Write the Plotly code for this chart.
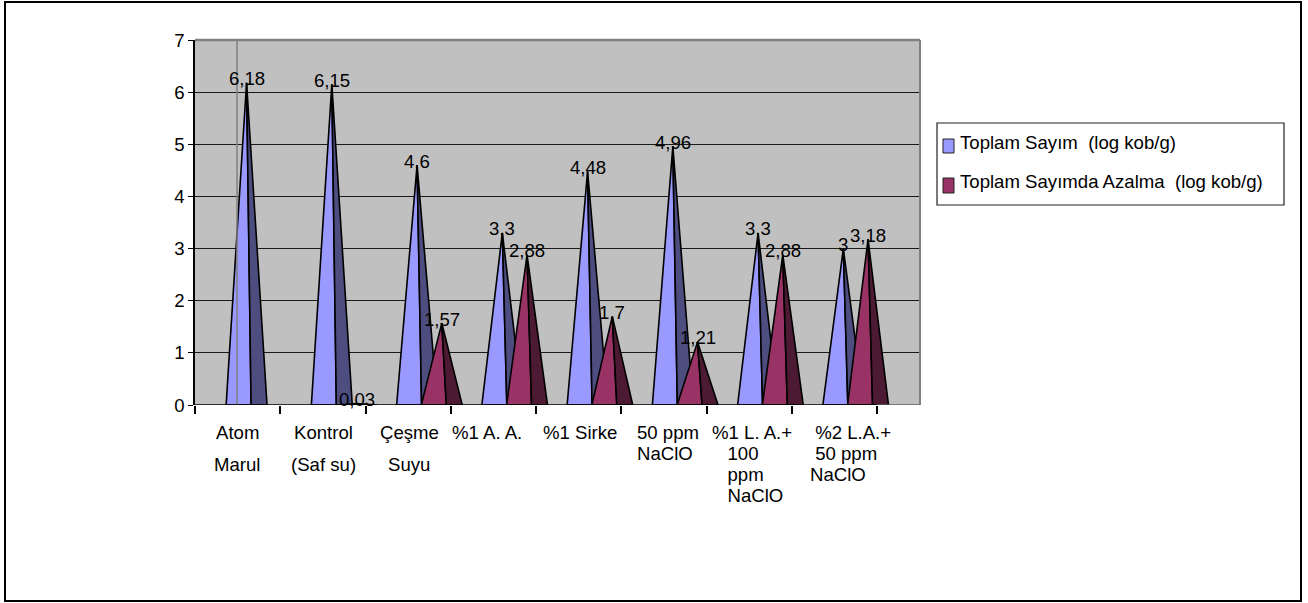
import plotly.graph_objects as go

# --- data -------------------------------------------------------------
categories = [
    "Atom\nMarul",
    "Kontrol\n(Saf su)",
    "Çeşme\nSuyu",
    "%1 A. A.",
    "%1 Sirke",
    "50 ppm\nNaClO",
    "%1 L. A.+\n\u00a0\u00a0\u00a0100\n\u00a0\u00a0\u00a0ppm\n\u00a0\u00a0\u00a0NaClO",
    "\u00a0%2 L.A.+\n\u00a050 ppm\nNaClO",
]
series_names = ["Toplam Sayım \u00a0(log kob/g)", "Toplam Sayımda Azalma \u00a0(log kob/g)"]
toplam_sayim = [6.18, 6.15, 4.6, 3.3, 4.48, 4.96, 3.3, 3.0]
sayimda_azalma = [None, 0.03, 1.57, 2.88, 1.7, 1.21, 2.88, 3.18]
y_ticks = [0, 1, 2, 3, 4, 5, 6, 7]

# --- styling ----------------------------------------------------------
FONT = "Liberation Sans, Arial, sans-serif"
FS = 18.6
W, H = 1308, 603
L, R, T, B = 195, 388, 40, 198
PW, PH = W - L - R, H - T - B
X_UNIT = 85.25                      # pixels per category
X_MIN = -0.5
X_MAX = X_MIN + PW / X_UNIT

series_style = [
    dict(values=toplam_sayim, offset=0.105, light="#9999FF", dark="#4D4D80"),
    dict(values=sayimda_azalma, offset=0.395, light="#993366", dark="#4D1A33"),
]
HALF_W = 0.24      # half of pyramid base width (category units)
FRONT = 0.053      # front edge offset of the pyramid base

# label layout per category: (anchor, x shift px, line spacing px)
label_style = [
    ("center", 0, 32), ("center", 1, 32), ("center", 1, 32),
    ("center", -6, 21), ("center", 1, 21), ("left", -29, 21),
    ("left", -39, 21), ("left", -26, 21),
]


def px_x(px):
    return (px - L) / PW


def px_y(py):
    return (T + PH - py) / PH


fig = go.Figure()

# pyramids: light (left) face and shaded (right) face
for st in series_style:
    for i, v in enumerate(st["values"]):
        if v is None:
            continue
        c = i + st["offset"]
        faces = [
            ([c - HALF_W, c, c + FRONT, c - HALF_W], [0, v, 0, 0], st["light"]),
            ([c + FRONT, c, c + HALF_W, c + FRONT], [0, v, 0, 0], st["dark"]),
        ]
        for xs, ys, col in faces:
            fig.add_trace(go.Scatter(
                x=xs, y=ys, mode="lines", fill="toself", fillcolor=col,
                line=dict(color="black", width=1.6), hoverinfo="skip",
                showlegend=False,
            ))

annotations = []

# value labels above each apex
for st in series_style:
    for i, v in enumerate(st["values"]):
        if v is None:
            continue
        annotations.append(dict(
            x=i + st["offset"], y=v, xref="x", yref="y",
            text=f"{v:g}".replace(".", ","), showarrow=False,
            yanchor="middle", xanchor="center", yshift=4,
            font=dict(family=FONT, size=FS, color="black"),
        ))

# category labels
for i, (lab, (anchor, shift, spacing)) in enumerate(zip(categories, label_style)):
    for k, line in enumerate(lab.split("\n")):
        annotations.append(dict(
            x=i, y=0, xref="x", yref="paper", text=line, showarrow=False,
            xanchor=anchor, yanchor="middle", xshift=shift,
            yshift=-(27 + k * spacing),
            font=dict(family=FONT, size=FS, color="black"),
        ))

shapes = []
# back-wall corner and top/right edges
shapes.append(dict(type="line", xref="paper", yref="paper",
                   x0=px_x(237), x1=px_x(237), y0=0, y1=1,
                   line=dict(color="#808080", width=1.5)))
shapes.append(dict(type="line", xref="paper", yref="paper",
                   x0=0, x1=1, y0=1, y1=1,
                   line=dict(color="#808080", width=2.5)))
shapes.append(dict(type="line", xref="paper", yref="paper",
                   x0=1, x1=1, y0=0, y1=1,
                   line=dict(color="#808080", width=2)))
# category axis line
shapes.append(dict(type="line", xref="x", yref="y",
                   x0=-0.5, x1=7.5, y0=0, y1=0,
                   line=dict(color="black", width=1.5)))
shapes.append(dict(type="line", xref="x", yref="y",
                   x0=7.5, x1=X_MAX, y0=0, y1=0,
                   line=dict(color="#606060", width=1.5)))

# legend box
shapes.append(dict(type="rect", xref="paper", yref="paper",
                   x0=px_x(937), x1=px_x(1284), y0=px_y(205), y1=px_y(123),
                   line=dict(color="#222", width=1.2), fillcolor="white"))
for (name, st), (sy0, sy1, ty) in zip(zip(series_names, series_style),
                                      [(139, 153, 142), (178, 193, 181)]):
    shapes.append(dict(type="rect", xref="paper", yref="paper",
                       x0=px_x(943), x1=px_x(954), y0=px_y(sy1), y1=px_y(sy0),
                       line=dict(color="#222", width=1), fillcolor=st["light"]))
    annotations.append(dict(
        x=px_x(958), y=px_y(ty), xref="paper", yref="paper", text=name,
        showarrow=False, xanchor="left", yanchor="middle",
        font=dict(family=FONT, size=FS, color="black"),
    ))

# outer chart border
shapes.append(dict(type="rect", xref="paper", yref="paper",
                   x0=px_x(5), x1=px_x(1301), y0=px_y(601), y1=px_y(2),
                   line=dict(color="black", width=2), fillcolor="rgba(0,0,0,0)"))

fig.update_layout(
    width=W, height=H,
    margin=dict(l=L, r=R, t=T, b=B, pad=0),
    paper_bgcolor="white",
    plot_bgcolor="#C0C0C0",
    showlegend=False,
    font=dict(family=FONT, size=FS, color="black"),
    xaxis=dict(
        range=[X_MIN, X_MAX], showgrid=False, zeroline=False, showline=False,
        tickmode="array", tickvals=[k - 0.5 for k in range(len(categories) + 1)],
        ticks="outside", ticklen=8, tickwidth=1.5, tickcolor="black",
        showticklabels=False, fixedrange=True,
    ),
    yaxis=dict(
        range=[0, 7], tickmode="array", tickvals=y_ticks,
        ticktext=[str(t) for t in y_ticks],
        showgrid=True, gridcolor="#1a1a1a", gridwidth=1,
        zeroline=False, showline=True, linecolor="black", linewidth=1.5,
        ticks="outside", ticklen=5, tickwidth=1.2, tickcolor="black",
        tickfont=dict(family=FONT, size=FS, color="black"),
        fixedrange=True,
    ),
    annotations=annotations,
    shapes=shapes,
)

fig.write_html("out.html")
